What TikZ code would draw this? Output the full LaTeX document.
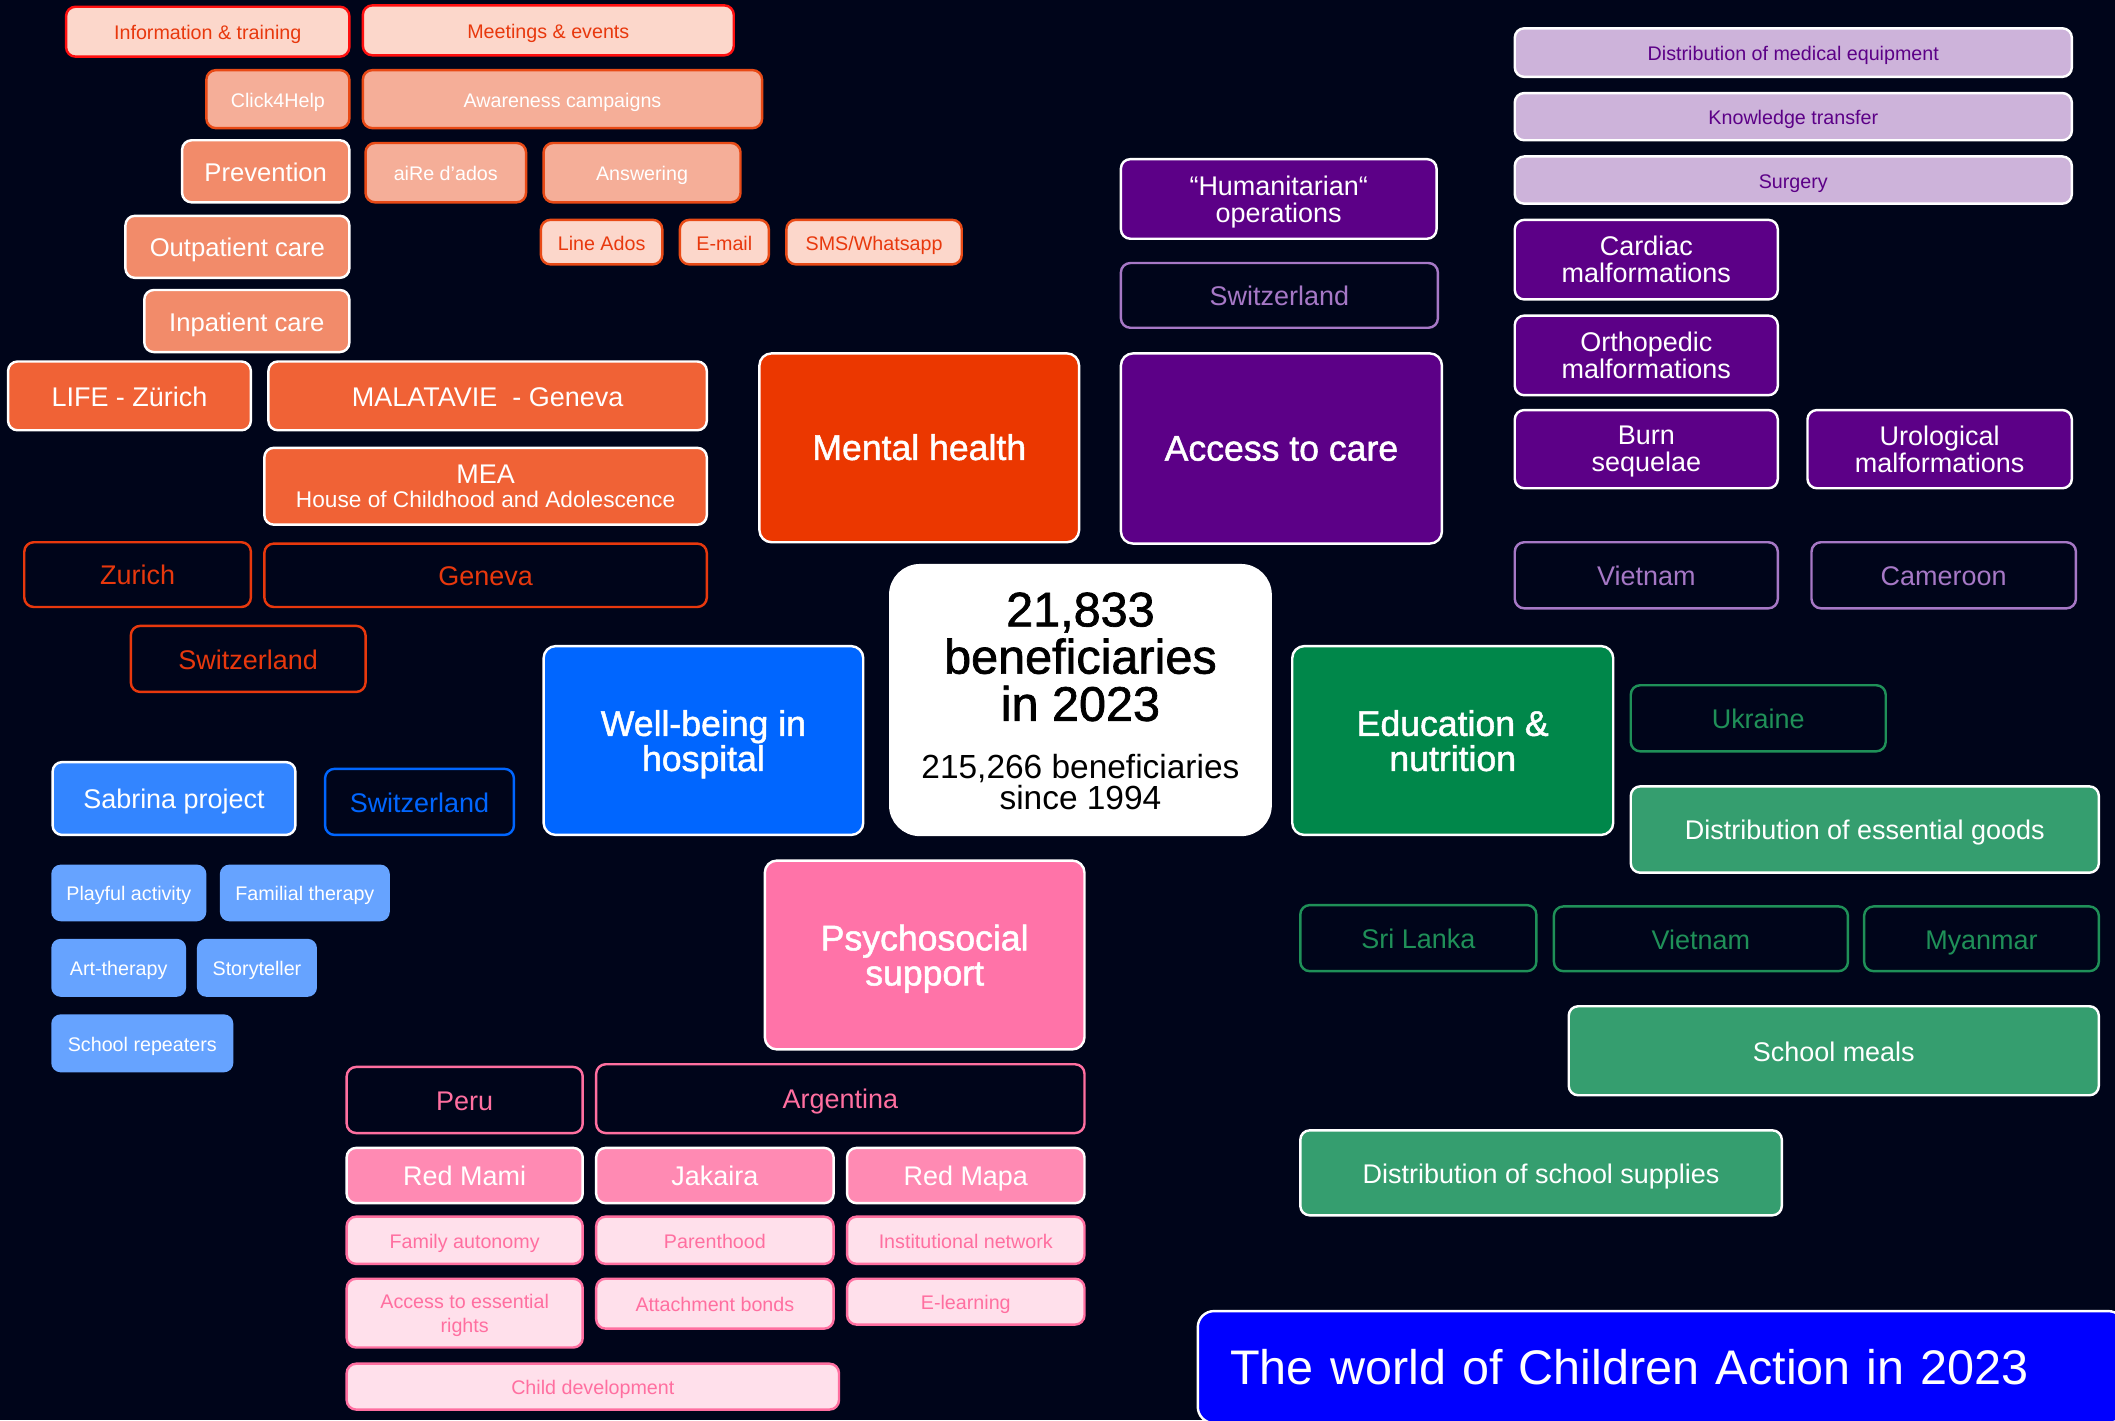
\documentclass[tikz,border=0pt]{standalone}
\usepackage{fontspec}
\setmainfont{Liberation Sans}
\newfontfamily\medfont[FakeBold=1.4]{Liberation Sans}
\definecolor{bg}{HTML}{00051A}
\definecolor{mhmain}{HTML}{EB3700}
\definecolor{mhE}{HTML}{F06236}
\definecolor{mhD}{HTML}{F28B6A}
\definecolor{mhB}{HTML}{F5AE98}
\definecolor{mhpale}{HTML}{FCD7CB}
\definecolor{mhborder}{HTML}{E84A16}
\definecolor{mhred}{HTML}{FF1010}
\definecolor{mhtext}{HTML}{E8380D}
\definecolor{acmain}{HTML}{5C0087}
\definecolor{acpale}{HTML}{CDB3DA}
\definecolor{acout}{HTML}{A678C6}
\definecolor{wbmain}{HTML}{0066FF}
\definecolor{wbmid}{HTML}{3385FF}
\definecolor{wbsmall}{HTML}{66A3FF}
\definecolor{enmain}{HTML}{00874A}
\definecolor{enmid}{HTML}{359E6F}
\definecolor{enout}{HTML}{1F9058}
\definecolor{psmain}{HTML}{FF73A8}
\definecolor{psmid}{HTML}{FF8AB3}
\definecolor{pspale}{HTML}{FFE0EB}
\definecolor{psout}{HTML}{FF6FA0}
\definecolor{titleblue}{HTML}{0000FF}
\newcommand\mybox[7]{\node[box,#6,minimum width={(#4-#2)*0.5pt},minimum height={(#5-#3)*0.5pt}] (#1) at ({(#2+#4)/2},{(#3+#5)/2}) {#7};}
\tikzset{
  box/.style={rectangle,rounded corners=3.5pt,line width=0.9pt,inner sep=0pt,align=center},
  fs/.style={font=\fontsize{7.3}{9}\selectfont,text height=6.6pt,text depth=0.7pt},
  fp/.style={font=\fontsize{9.5}{10}\selectfont,text height=8.2pt,text depth=0.7pt},
  fm/.style={font=\fontsize{10}{10}\selectfont,text height=8.6pt,text depth=1.0pt},
  fh/.style={font=\fontsize{13.2}{13}\selectfont\medfont},
  ml/.style={text height={},text depth=0pt},
  sl/.style={text height=10.4pt,text depth=1.4pt},
  mainbox/.style={fill=#1,draw=white,text=white,fh,rounded corners=4.5pt},
  mhA/.style={fill=mhpale,draw=mhred,text=mhtext,fs},
  mhBx/.style={fill=mhB,draw=mhborder,text=white,fs},
  mhC/.style={fill=mhpale,draw=mhborder,text=mhtext,fs},
  mhDx/.style={fill=mhD,draw=white,text=white,fp},
  mhEx/.style={fill=mhE,draw=white,text=white,fm},
  mhF/.style={fill=bg,draw=mhtext,text=mhtext,fm},
  acP/.style={fill=acpale,draw=white,text=acmain,fs},
  acM/.style={fill=acmain,draw=white,text=white,fm},
  acO/.style={fill=bg,draw=acout,text=acout,fm},
  wbM/.style={fill=wbmid,draw=white,text=white,fm},
  wbO/.style={fill=bg,draw=wbmain,text=wbmain,fm},
  wbS/.style={fill=wbsmall,draw=none,text=white,fs},
  enM/.style={fill=enmid,draw=white,text=white,fm},
  enO/.style={fill=bg,draw=enout,text=enout,fm},
  psM/.style={fill=psmid,draw=white,text=white,fm},
  psO/.style={fill=bg,draw=psout,text=psout,fm},
  psP/.style={fill=pspale,draw=psout,text=psout,fs},
}
\begin{document}
\begin{tikzpicture}[x=0.5pt,y=-0.5pt]
\useasboundingbox (0,0) rectangle (1568,1053);
\clip (0,0) rectangle (1568,1053);
\fill[bg] (0,0) rectangle (1568,1053);

% ---------- Mental health ----------
\mybox{infotr}{49}{5}{259}{42}{mhA}{Information \& training}
\mybox{meet}{269}{4}{544}{41}{mhA}{Meetings \& events}
\mybox{click}{153}{52}{259}{95}{mhBx}{Click4Help}
\mybox{aware}{269}{52}{565}{95}{mhBx}{Awareness campaigns}
\mybox{prev}{135}{104}{259}{150}{mhDx}{Prevention}
\mybox{aire}{271}{106}{390}{150}{mhBx}{aiRe d'ados}
\mybox{answ}{403}{106}{549}{150}{mhBx}{Answering}
\mybox{outp}{93}{160}{259}{206}{mhDx}{Outpatient care}
\mybox{lineados}{401}{163}{491}{196}{mhC}{Line Ados}
\mybox{email}{504}{163}{570}{196}{mhC}{E-mail}
\mybox{sms}{583}{163}{713}{196}{mhC}{SMS/Whatsapp}
\mybox{inp}{107}{215}{259}{261}{mhDx}{Inpatient care}
\mybox{life}{6}{268}{186}{319}{mhEx}{LIFE - Zürich}
\mybox{mala}{199}{268}{524}{319}{mhEx}{MALATAVIE \ - Geneva}
\mybox{mea}{196}{332}{524}{389}{mhEx,ml}{MEA\\[-1pt]{\fontsize{8.4}{9}\selectfont House of Childhood and Adolescence}}
\mybox{mh}{563}{262}{800}{402}{mainbox=mhmain,sl}{Mental health}
\mybox{zur}{18}{402}{186}{450}{mhF}{Zurich}
\mybox{gen}{196}{403}{524}{450}{mhF}{Geneva}
\mybox{chmh}{97}{464}{271}{513}{mhF}{Switzerland}

% ---------- Access to care ----------
\mybox{distmed}{1123}{21}{1536}{57}{acP}{Distribution of medical equipment}
\mybox{know}{1123}{69}{1536}{104}{acP}{Knowledge transfer}
\mybox{surg}{1123}{116}{1536}{151}{acP}{Surgery}
\mybox{hum}{831}{118}{1065}{177}{acM,ml}{“Humanitarian“\\operations}
\mybox{card}{1123}{163}{1318}{222}{acM,ml}{Cardiac\\malformations}
\mybox{chac}{831}{195}{1066}{243}{acO}{Switzerland}
\mybox{orth}{1123}{234}{1318}{293}{acM,ml}{Orthopedic\\malformations}
\mybox{ac}{831}{262}{1069}{403}{mainbox=acmain,sl}{Access to care}
\mybox{burn}{1123}{304}{1318}{362}{acM,ml}{Burn\\sequelae}
\mybox{uro}{1340}{304}{1536}{362}{acM,ml}{Urological\\malformations}
\mybox{vnac}{1123}{402}{1318}{451}{acO}{Vietnam}
\mybox{cam}{1343}{402}{1539}{451}{acO}{Cameroon}

% ---------- Centre ----------
\mybox{centre}{660}{419}{942}{619}{fill=white,draw=white,rounded corners=11pt}{}
\node[align=center,text=black,font=\fontsize{18}{17.5}\selectfont\medfont] (cbig) at (801,487) {21,833\\beneficiaries\\in 2023};
\node[align=center,text=black,font=\fontsize{12.4}{11.5}\selectfont] (csmall) at (801,580) {215,266 beneficiaries\\since 1994};

% ---------- Well-being in hospital ----------
\mybox{wb}{403}{479}{640}{619}{mainbox=wbmain,ml}{Well-being in\\hospital}
\mybox{sab}{39}{565}{219}{619}{wbM}{Sabrina project}
\mybox{chwb}{241}{570}{381}{619}{wbO}{Switzerland}
\mybox{play}{38}{641}{153}{683}{wbS}{Playful activity}
\mybox{fam}{163}{641}{289}{683}{wbS}{Familial therapy}
\mybox{art}{38}{696}{138}{739}{wbS}{Art-therapy}
\mybox{story}{146}{696}{235}{739}{wbS}{Storyteller}
\mybox{rep}{38}{752}{173}{795}{wbS}{School repeaters}

% ---------- Education & nutrition ----------
\mybox{en}{958}{479}{1196}{619}{mainbox=enmain,ml}{Education \&\\nutrition}
\mybox{ukr}{1209}{508}{1398}{557}{enO}{Ukraine}
\mybox{distess}{1209}{583}{1556}{647}{enM}{Distribution of essential goods}
\mybox{sri}{964}{671}{1139}{720}{enO}{Sri Lanka}
\mybox{vnen}{1152}{672}{1370}{720}{enO}{Vietnam}
\mybox{mya}{1382}{672}{1556}{720}{enO}{Myanmar}
\mybox{meals}{1163}{746}{1556}{812}{enM}{School meals}
\mybox{supp}{964}{838}{1321}{901}{enM}{Distribution of school supplies}

% ---------- Psychosocial support ----------
\mybox{ps}{567}{638}{804}{778}{mainbox=psmain,ml}{Psychosocial\\support}
\mybox{peru}{257}{791}{432}{840}{psO}{Peru}
\mybox{arg}{442}{789}{804}{840}{psO}{Argentina}
\mybox{mami}{257}{851}{432}{892}{psM}{Red Mami}
\mybox{jak}{442}{851}{618}{892}{psM}{Jakaira}
\mybox{mapa}{628}{851}{804}{892}{psM}{Red Mapa}
\mybox{famaut}{257}{902}{432}{937}{psP}{Family autonomy}
\mybox{parent}{442}{902}{618}{937}{psP}{Parenthood}
\mybox{inst}{628}{902}{804}{937}{psP}{Institutional network}
\mybox{rights}{257}{948}{432}{999}{psP,ml}{Access to essential\\rights}
\mybox{attach}{442}{948}{618}{985}{psP}{Attachment bonds}
\mybox{elearn}{628}{948}{804}{982}{psP}{E-learning}
\mybox{childdev}{257}{1011}{622}{1045}{psP}{Child development}

% ---------- Title ----------
\mybox{title}{888}{972}{1575}{1055}{fill=titleblue,draw=white,rounded corners=6pt,text=white,align=left,inner xsep=12pt,text width=319.5pt,font=\fontsize{18}{20}\selectfont}{The world of Children Action in 2023}
\end{tikzpicture}
\end{document}
